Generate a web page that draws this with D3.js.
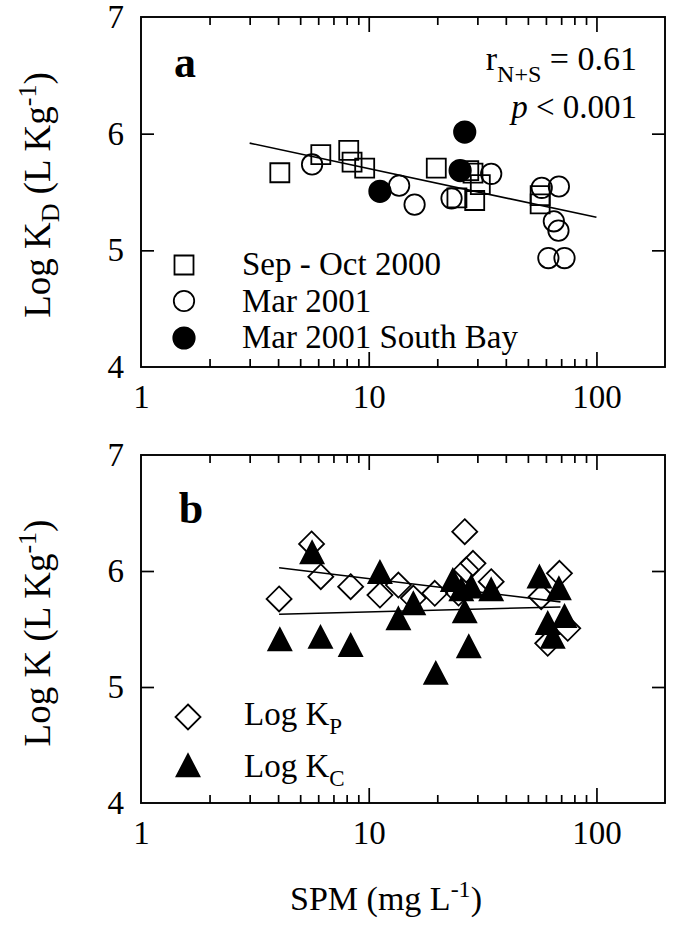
<!DOCTYPE html>
<html>
<head>
<meta charset="utf-8">
<script src="https://cdn.jsdelivr.net/npm/d3@7"></script>
<style>
  body { margin: 0; background: #fff; }
  svg text { font-family: "Liberation Serif", "Times New Roman", serif; fill: #000; }
</style>
</head>
<body>
<svg id="chart"></svg>
<script>
/* global d3 */

// ---- data (SPM mg/L, log K) ----
const sepOct2000 = [
  [4.07, 5.665], [6.16, 5.82], [8.17, 5.856], [8.45, 5.756], [9.6, 5.704],
  [19.8, 5.704], [24.4, 5.45], [27.5, 5.684], [28.7, 5.661], [30.9, 5.564],
  [29.2, 5.427], [56.6, 5.469], [56.6, 5.398],
];
const mar2001 = [
  [5.64, 5.736], [13.6, 5.555], [15.9, 5.392], [23.1, 5.446], [34.5, 5.656],
  [57.5, 5.536], [68.4, 5.547], [65.0, 5.249], [68.1, 5.169], [61.5, 4.934],
  [72.4, 4.934],
];
const mar2001SouthBay = [[11.2, 5.506], [26.4, 6.014], [25.2, 5.684]];
const fitKd = [[3, 5.919], [100, 5.283]];

const logKp = [
  [4.04, 5.759], [5.61, 6.233], [6.16, 5.951], [8.33, 5.865], [11.2, 5.793],
  [13.5, 5.879], [15.7, 5.767], [19.5, 5.808], [24.8, 5.81], [26.4, 6.339],
  [28.7, 6.066], [26.8, 6.009], [34.5, 5.908], [57.2, 5.778], [68.8, 5.98],
  [74.8, 5.506], [61.1, 5.377],
];
const logKc = [
  [5.64, 6.13], [4.07, 5.38], [6.14, 5.40], [8.33, 5.33], [11.2, 5.96],
  [13.5, 5.56], [15.7, 5.69], [19.7, 5.09], [23.4, 5.89], [25.5, 5.81],
  [28.2, 5.835], [26.4, 5.62], [27.5, 5.32], [34.5, 5.81], [56.2, 5.92],
  [68.4, 5.82], [72.4, 5.58], [61.1, 5.52], [64.3, 5.40],
];
const fitKp = [[4.04, 6.028], [69.5, 5.734]];
const fitKc = [[4.04, 5.627], [69.5, 5.69]];

const xMinorTicks = [2, 3, 4, 5, 6, 7, 8, 9, 20, 30, 40, 50, 60, 70, 80, 90];
const xMajorTicks = [10, 100];
const xTickLabels = [1, 10, 100];
const yTickLabels = [4, 5, 6, 7];
const yInnerTicks = [5, 6];

// ---- layout ----
const WIDTH = 675;
const HEIGHT = 926;
const FONT = 33;

const svg = d3.select('#chart').attr('width', WIDTH).attr('height', HEIGHT);

const x = d3.scaleLog().domain([1, 200]).range([141, 665]);

const panelA = { top: 17, bottom: 367 };
const panelB = { top: 455, bottom: 803 };
panelA.y = d3.scaleLinear().domain([4, 7]).range([panelA.bottom, panelA.top]);
panelB.y = d3.scaleLinear().domain([4, 7]).range([panelB.bottom, panelB.top]);

// custom symbols
const diamond = {
  draw(ctx, size) {
    const r = Math.sqrt(size) / 2;
    ctx.moveTo(0, -r); ctx.lineTo(r, 0); ctx.lineTo(0, r); ctx.lineTo(-r, 0); ctx.closePath();
  },
};
const triangle = {
  draw(ctx, size) {
    const w = Math.sqrt(size), h = w * 0.96;
    ctx.moveTo(0, -h * 2 / 3); ctx.lineTo(w / 2, h / 3); ctx.lineTo(-w / 2, h / 3); ctx.closePath();
  },
};

const styles = {
  square:  { path: d3.symbol().type(d3.symbolSquare).size(361)(), fill: 'none' },
  circle:  { path: d3.symbol().type(d3.symbolCircle).size(327)(), fill: 'none' },
  dot:     { path: d3.symbol().type(d3.symbolCircle).size(360)(), fill: '#000' },
  diamond: { path: d3.symbol().type(diamond).size(625)(), fill: 'none' },
  tri:     { path: d3.symbol().type(triangle).size(529)(), fill: '#000' },
};

const cleanAxis = g => {
  g.select('.domain').remove();
  g.selectAll('.tick line').attr('stroke', '#000').attr('stroke-width', 1.7);
  g.selectAll('.tick text').attr('font-size', FONT).attr('font-family', null);
};

const drawFrame = function (panel) {
  const { y, top, bottom } = panel;

  // ticks on all four sides, pointing inward
  const tickSets = [
    [d3.axisBottom(x), xMinorTicks, -8, `translate(0,${bottom})`],
    [d3.axisBottom(x), xMajorTicks, -15, `translate(0,${bottom})`],
    [d3.axisTop(x), xMinorTicks, -8, `translate(0,${top})`],
    [d3.axisTop(x), xMajorTicks, -15, `translate(0,${top})`],
    [d3.axisLeft(y), yInnerTicks, -13, `translate(${x.range()[0]},0)`],
    [d3.axisRight(y), yInnerTicks, -13, `translate(${x.range()[1]},0)`],
  ];
  tickSets.forEach(([axis, values, size, tr]) => {
    svg.append('g').attr('transform', tr)
      .call(axis.tickValues(values).tickSize(size).tickFormat(''))
      .call(cleanAxis);
  });

  // labels
  svg.append('g').attr('transform', `translate(0,${bottom})`)
    .call(d3.axisBottom(x).tickValues(xTickLabels).tickSize(0).tickPadding(18).tickFormat(d3.format('d')))
    .call(cleanAxis);
  svg.append('g').attr('transform', `translate(${x.range()[0]},0)`)
    .call(d3.axisLeft(y).tickValues(yTickLabels).tickSize(0).tickPadding(17).tickFormat(d3.format('d')))
    .call(cleanAxis);

  svg.append('rect')
    .attr('x', x.range()[0]).attr('y', top)
    .attr('width', x.range()[1] - x.range()[0]).attr('height', bottom - top)
    .attr('fill', 'none').attr('stroke', '#000').attr('stroke-width', 1.9);
};

const drawPoints = function (panel, data, style) {
  svg.append('g').selectAll('path').data(data).enter()
    .append('path')
    .attr('transform', d => `translate(${x(d[0])},${panel.y(d[1])})`)
    .attr('d', styles[style].path)
    .attr('fill', styles[style].fill)
    .attr('stroke', '#000')
    .attr('stroke-width', 1.8);
};

const drawFit = function (panel, data) {
  svg.append('path')
    .datum(data)
    .attr('d', d3.line().x(d => x(d[0])).y(d => panel.y(d[1])))
    .attr('fill', 'none').attr('stroke', '#000').attr('stroke-width', 1.6);
};

const legend = function (items) {
  items.forEach(item => {
    svg.append('path')
      .attr('transform', `translate(${item.mx},${item.my})`)
      .attr('d', styles[item.style].path)
      .attr('fill', styles[item.style].fill)
      .attr('stroke', '#000').attr('stroke-width', 1.8);
    const t = svg.append('text').attr('x', item.tx).attr('y', item.ty).attr('font-size', FONT);
    t.append('tspan').text(item.label);
    if (item.sub) {
      t.append('tspan').attr('font-size', 23).attr('dy', 9).text(item.sub);
    }
  });
};

//-------------------------------------------------
// panel a
drawFrame(panelA);
drawFit(panelA, fitKd);
drawPoints(panelA, sepOct2000, 'square');
drawPoints(panelA, mar2001, 'circle');
drawPoints(panelA, mar2001SouthBay, 'dot');

svg.append('text').attr('x', 185).attr('y', 77).attr('text-anchor', 'middle')
  .attr('font-size', 44).attr('font-weight', 'bold').text('a');

const rText = svg.append('text').attr('x', 637).attr('y', 70)
  .attr('text-anchor', 'end').attr('font-size', 34);
rText.append('tspan').text('r');
rText.append('tspan').attr('font-size', 24).attr('dy', 12).text('N+S');
rText.append('tspan').attr('dy', -12).text(' = 0.61');

const pText = svg.append('text').attr('x', 637).attr('y', 118)
  .attr('text-anchor', 'end').attr('font-size', 33);
pText.append('tspan').attr('font-style', 'italic').text('p');
pText.append('tspan').text(' < 0.001');

legend([
  { style: 'square', mx: 184, my: 265, tx: 242, ty: 275, label: 'Sep - Oct 2000' },
  { style: 'circle', mx: 184, my: 301, tx: 242, ty: 312, label: 'Mar 2001' },
  { style: 'dot', mx: 184, my: 338, tx: 242, ty: 348, label: 'Mar 2001 South Bay' },
]);

const yTitleA = svg.append('text').attr('transform', 'translate(50,195) rotate(-90)')
  .attr('text-anchor', 'middle').attr('font-size', 37);
yTitleA.append('tspan').text('Log K');
yTitleA.append('tspan').attr('font-size', 26).attr('dy', 9).text('D');
yTitleA.append('tspan').attr('dy', -9).text(' (L Kg');
yTitleA.append('tspan').attr('font-size', 26).attr('dy', -14).text('-1');
yTitleA.append('tspan').attr('dy', 14).text(')');

//-------------------------------------------------
// panel b
drawFrame(panelB);
drawFit(panelB, fitKp);
drawFit(panelB, fitKc);
drawPoints(panelB, logKp, 'diamond');
drawPoints(panelB, logKc, 'tri');

svg.append('text').attr('x', 191).attr('y', 523).attr('text-anchor', 'middle')
  .attr('font-size', 44).attr('font-weight', 'bold').text('b');

legend([
  { style: 'diamond', mx: 188, my: 717, tx: 244, ty: 725, label: 'Log K', sub: 'P' },
  { style: 'tri', mx: 188, my: 769, tx: 244, ty: 777, label: 'Log K', sub: 'C' },
]);

const yTitleB = svg.append('text').attr('transform', 'translate(50,633) rotate(-90)')
  .attr('text-anchor', 'middle').attr('font-size', 37);
yTitleB.append('tspan').text('Log K (L Kg');
yTitleB.append('tspan').attr('font-size', 26).attr('dy', -14).text('-1');
yTitleB.append('tspan').attr('dy', 14).text(')');

const xTitle = svg.append('text').attr('x', 386).attr('y', 910)
  .attr('text-anchor', 'middle').attr('font-size', 34);
xTitle.append('tspan').text('SPM (mg L');
xTitle.append('tspan').attr('font-size', 24).attr('dy', -13).text('-1');
xTitle.append('tspan').attr('dy', 13).text(')');
</script>
</body>
</html>
